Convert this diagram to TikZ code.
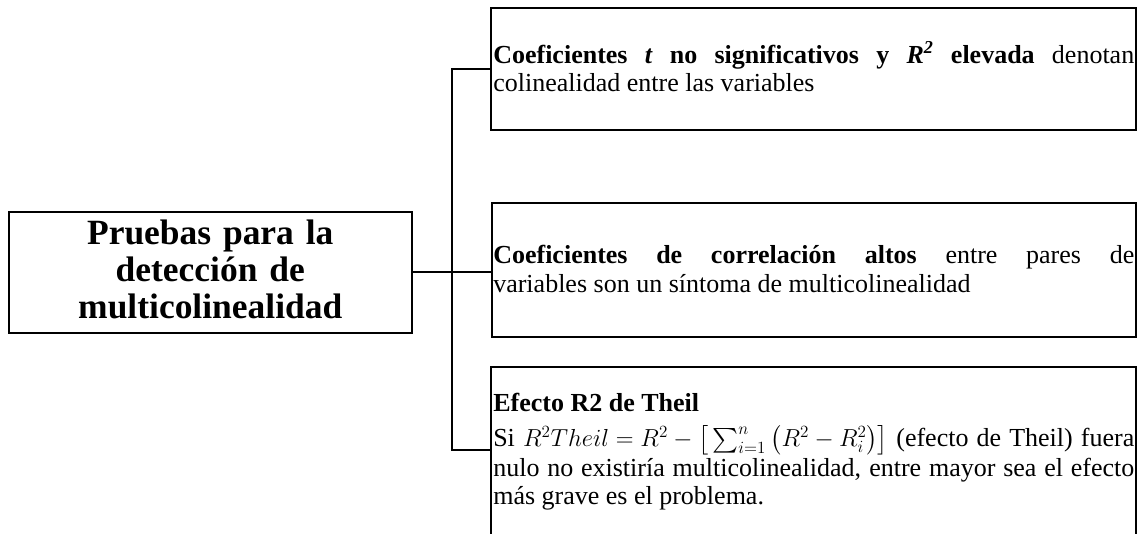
\documentclass[tikz,border=0pt]{standalone}
\usepackage{fontspec}
\setmainfont{Liberation Serif}
\usepackage{amsmath}
\usepackage{graphicx}
% box and length used to keep the formula line within the text width
\newsavebox\theilbox
\newlength\theilroom
% fixed line pitch, whatever the height of a line
\newcommand\fixedpitch{\lineskiplimit=-100pt\relax}
\begin{document}
\begin{tikzpicture}[x=0.75pt,y=-0.75pt,
  frame/.style={draw=black,line width=1.5pt,rectangle,inner sep=0pt,outer sep=0pt},
  link/.style={draw=black,line width=1.5pt,line join=miter},
  bodytext/.style={anchor=base west,inner sep=0pt,text width=480.75pt,align=justify,
    font={\fontsize{19.5}{21}\selectfont\fixedpitch}},
  titletext/.style={anchor=base,inner sep=0pt,text width=290pt,align=center,
    font=\fontsize{26.6}{27.5}\selectfont\bfseries}]
% page area
\fill[white] (0,0) rectangle (1144,534);
\clip (0,0) rectangle (1144,534);
\useasboundingbox (0,0) rectangle (1144,534);

% frames
\node[frame,minimum width=301.9pt,minimum height=91.1pt] (title) at (210.25,272.25) {};
\node[frame,minimum width=483.4pt,minimum height=91.5pt] (box1) at (813.75,69) {};
\node[frame,minimum width=483pt,minimum height=100.5pt] (box2) at (813.5,270) {};
\node[frame,minimum width=483.4pt,minimum height=174.75pt] (box3) at (813.75,483.5) {};

% texts
\node[titletext] (titletxt) at (210.25,245) {Pruebas para la\\ detección de\\ multicolinealidad};

\node[bodytext] (txt1) at (493,64) {\textbf{Coeficientes \textit{t} no significativos y \textit{R\textsuperscript{2}} elevada} denotan\linebreak colinealidad entre las variables};

\node[bodytext] (txt2) at (493,264) {\textbf{Coeficientes de correlación altos} entre pares de\linebreak variables son un síntoma de multicolinealidad};

\node[bodytext] (txt3) at (493,411.5) {%
  \sbox\theilbox{$R^{2}Theil=R^{2}-\big[\sum_{i=1}^{n}\big(R^{2}-R_{i}^{2}\big)\big]$}%
  \settowidth\theilroom{Si\ \ (efecto\ de\ Theil)\ fuera}%
  \setlength\theilroom{\dimexpr\linewidth-\theilroom-6pt\relax}%
  \textbf{Efecto R2 de Theil}\\[5.25pt]
  \makebox[\linewidth][s]{Si \ifdim\wd\theilbox>\theilroom\resizebox{\theilroom}{!}{\usebox\theilbox}\else\usebox\theilbox\fi{} (efecto de Theil) fuera}\\[1.5pt]
  nulo no existiría multicolinealidad, entre mayor sea el efecto\linebreak
  más grave es el problema.};

% connectors
\coordinate (up) at (451.5,69);
\coordinate (dn) at (451.5,450);
\draw[link] (box1.west) -- (up) -- (dn) -- (dn -| box3.west);
\draw[link] (title.east) -- (title.east -| box2.west);
\end{tikzpicture}
\end{document}
